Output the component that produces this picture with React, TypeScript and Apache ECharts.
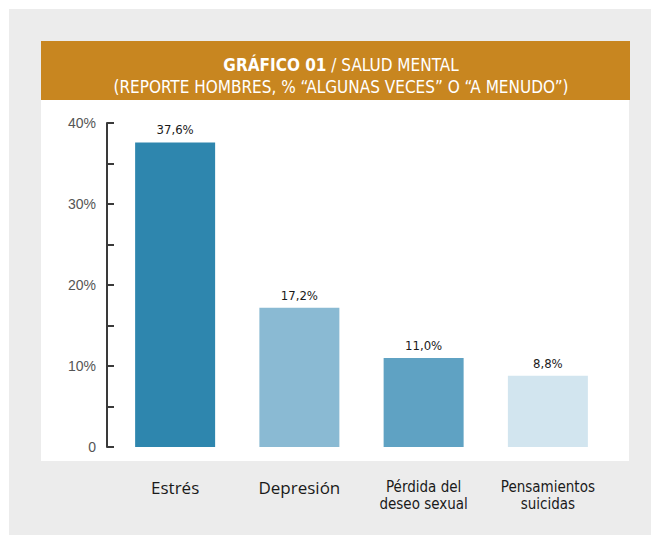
import React, { useEffect, useRef } from "react";
import * as echarts from "echarts";

const categories = ["Estrés", "Depresión", "Pérdida del\ndeseo sexual", "Pensamientos\nsuicidas"];
const values = [37.6, 17.2, 11.0, 8.8];
const barColors = ["#2e86ae", "#8abad3", "#5fa2c3", "#d2e5ef"];
const yTicks = [0, 10, 20, 30, 40];
const titleLine1Bold = "GRÁFICO 01";
const titleLine1Rest = " / SALUD MENTAL";
const titleLine2 = "(REPORTE HOMBRES, % “ALGUNAS VECES” O “A MENUDO”)";

const NARROW = "'DejaVu Sans Condensed', 'Liberation Sans Narrow', 'Liberation Sans', sans-serif";

export default function App() {
  const ref = useRef<HTMLDivElement>(null);
  useEffect(() => {
    if (!ref.current) return;
    const chart = echarts.init(ref.current, undefined, { renderer: "svg" });
    chart.setOption({
      animation: false,
      backgroundColor: "#ffffff",
      graphic: [
        { type: "rect", z: -10, shape: { x: 9, y: 9, width: 642, height: 526 }, style: { fill: "#ececec" } },
        { type: "rect", z: -9, shape: { x: 41, y: 41, width: 589, height: 59 }, style: { fill: "#c88620" } },
        { type: "rect", z: -9, shape: { x: 41, y: 100, width: 588, height: 361 }, style: { fill: "#ffffff" } },
      ],
      title: {
        left: 336,
        top: 49,
        textAlign: "center",
        text: `{b|${titleLine1Bold}}{r|${titleLine1Rest}}\n{r|${titleLine2}}`,
        textStyle: {
          rich: {
            b: { fontFamily: NARROW, fontSize: 17, fontWeight: "bold", color: "#ffffff", lineHeight: 22 },
            r: { fontFamily: NARROW, fontSize: 17, fontWeight: "normal", color: "#ffffff", lineHeight: 22 },
          },
        },
      },
      grid: { left: 113, right: 41, top: 123, bottom: 88, containLabel: false },
      xAxis: {
        type: "category",
        data: categories,
        axisLine: { show: false },
        axisTick: { show: false },
        axisLabel: {
          margin: 31,
          verticalAlign: "top",
          formatter: (v: string) => (v.includes("\n") ? v.split("\n").map((s) => `{n|${s}}`).join("\n") : `{w|${v}}`),
          rich: {
            w: { fontFamily: "'Open Sans', sans-serif", fontSize: 17, color: "#1a1a1a", lineHeight: 18 },
            n: { fontFamily: NARROW, fontSize: 15, color: "#1a1a1a", lineHeight: 17 },
          },
        },
      },
      yAxis: {
        type: "value",
        min: yTicks[0],
        max: yTicks[yTicks.length - 1],
        interval: 10,
        offset: 6,
        splitLine: { show: false },
        axisLine: { show: true, lineStyle: { color: "#3a3a3a", width: 2 } },
        axisTick: { show: true, inside: true, length: 7, lineStyle: { color: "#3a3a3a", width: 2 } },
        minorTick: { show: true, splitNumber: 2, length: 7, lineStyle: { color: "#3a3a3a", width: 2 } },
        axisLabel: {
          margin: 11,
          color: "#555555",
          fontFamily: "'Liberation Sans', sans-serif",
          fontSize: 14,
          formatter: (v: number) => (v === 0 ? "0" : `${v}%`),
        },
      },
      series: [
        {
          type: "bar",
          barWidth: 80,
          data: values.map((v, i) => ({ value: v, itemStyle: { color: barColors[i] } })),
          label: {
            show: true,
            position: "top",
            distance: 6,
            fontFamily: NARROW,
            fontSize: 13,
            color: "#1a1a1a",
            formatter: (p: any) => `${p.value.toFixed(1).replace(".", ",")}%`,
          },
        },
      ],
    });
    return () => chart.dispose();
  }, []);
  return <div ref={ref} style={{ position: "absolute", left: 0, top: 0, width: 651, height: 535 }} />;
}
